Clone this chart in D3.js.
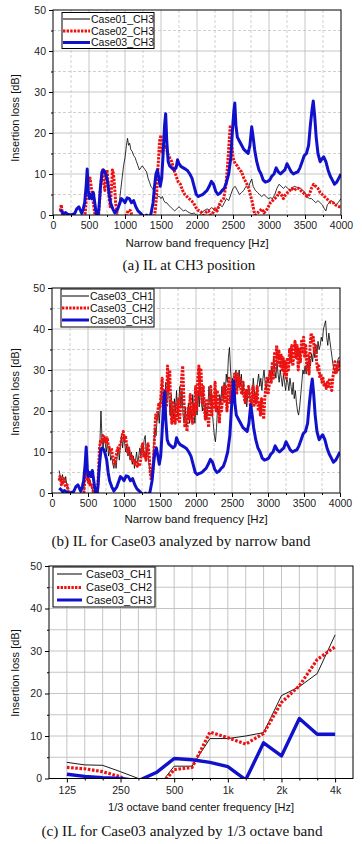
<!DOCTYPE html>
<html><head><meta charset="utf-8">
<script src="https://cdn.jsdelivr.net/npm/d3@7"></script>
<style>
html,body{margin:0;padding:0;background:#fff;}
svg{display:block;}
</style></head>
<body><svg id="chart" width="362" height="844"></svg>
<script>
// ---------------- DATA ----------------
const freqTicks = [0,500,1000,1500,2000,2500,3000,3500,4000];
const yTicks = [0,10,20,30,40,50];
const namesA = ["Case01_CH3","Case02_CH3","Case03_CH3"];
const namesB = ["Case03_CH1","Case03_CH2","Case03_CH3"];
const namesC = ["Case03_CH1","Case03_CH2","Case03_CH3"];
const bandCategories = ["125","160","200","250","315","400","500","630","800","1k","1.25k","1.6k","2k","2.5k","3.15k","4k"];
const bandTickLabels = ["125","250","500","1k","2k","4k"];

// [frequency Hz, insertion loss dB]
const case03CH3 = [[100,1.2],[125,0.8],[150,0.3],[175,0.6],[200,0.2],[250,0],[300,0.3],[330,1.5],[360,2],[380,1.2],[400,0.4],[420,1.5],[440,3],[460,7],[475,11.2],[490,6],[505,4],[520,5],[540,4],[560,5.5],[580,3],[600,0.5],[620,-1],[640,2],[660,7],[680,10.5],[700,11],[720,10.5],[740,9.5],[760,8],[780,5],[800,3],[830,1.5],[860,0.5],[900,1.5],[930,3],[950,4],[980,3.5],[1000,3],[1030,4.2],[1060,4],[1090,3],[1120,3.5],[1150,2],[1180,1],[1210,0.5],[1240,0],[1270,-0.5],[1300,0],[1330,-0.5],[1360,0.2],[1390,3],[1410,7],[1430,10],[1450,11],[1470,9],[1490,7],[1510,9],[1530,15],[1550,22],[1565,24.7],[1580,18],[1600,13],[1620,12],[1650,11.5],[1680,11],[1710,11.5],[1730,13.5],[1750,12.5],[1780,11.8],[1810,11.5],[1840,11.2],[1870,10.8],[1900,10],[1930,9],[1960,7],[1990,5],[2020,4.5],[2050,4.8],[2080,5],[2110,5.5],[2140,6],[2170,7],[2200,8.2],[2230,7.5],[2260,5.8],[2290,5],[2320,5.3],[2350,6],[2380,6.5],[2410,8],[2440,10],[2470,14],[2490,20],[2510,25],[2525,27.3],[2540,22],[2560,19],[2590,18],[2620,17],[2650,16],[2680,15.5],[2710,15],[2735,17],[2760,21.5],[2780,19],[2800,16],[2830,13],[2860,11],[2890,10],[2920,8.5],[2950,8],[2980,8.2],[3010,8.5],[3040,9.5],[3070,10],[3100,11.5],[3130,10.5],[3160,10],[3190,10.5],[3220,11],[3250,12.5],[3280,11.5],[3310,10.5],[3340,10],[3370,10.3],[3400,10.5],[3430,11.5],[3460,13],[3490,14.5],[3520,15],[3550,17],[3575,22],[3600,26],[3615,27.8],[3635,24],[3655,19],[3680,15],[3710,13],[3740,13.8],[3760,14.2],[3790,13],[3820,11],[3850,9.5],[3880,8.5],[3910,7.5],[3940,8],[3970,9],[4000,10]];

const case02CH3 = [[100,1],[115,2.5],[125,1],[140,-1],[440,-1],[455,2],[470,6],[485,9],[500,8.5],[515,9],[530,7],[545,5],[560,3],[575,1],[590,-1],[630,-1],[645,3],[660,7],[675,9],[690,11],[705,8],[720,6],[735,9],[750,11],[765,8],[780,4],[795,2],[810,6],[825,11],[840,10],[855,7],[870,3],[885,1],[900,-1],[1000,-1],[1030,0.5],[1050,1.2],[1080,1],[1100,-0.5],[1400,-1],[1420,1],[1440,5],[1460,12],[1480,18],[1500,19.5],[1515,15],[1530,17],[1550,16.5],[1570,17],[1590,15],[1620,14],[1650,13],[1680,11],[1710,9.5],[1740,8],[1770,7.5],[1800,6],[1830,5],[1860,4.5],[1890,4],[1920,3.5],[1950,3],[1980,2],[2010,1.2],[2040,1],[2070,0.5],[2100,-0.5],[2130,0.8],[2160,1],[2190,0],[2220,0.5],[2250,1.5],[2280,1],[2310,2.5],[2340,3.5],[2370,4],[2400,7],[2420,11],[2440,16],[2460,21.5],[2480,18],[2500,14],[2530,12.5],[2560,12],[2590,11],[2620,10.5],[2650,9],[2680,8],[2710,7],[2740,5],[2770,3],[2790,1],[2810,0],[2840,0.5],[2870,1],[2900,1.5],[2930,0.5],[2960,1],[2990,2],[3020,3],[3050,3.5],[3080,4],[3110,4.5],[3140,5.5],[3170,5],[3200,4],[3230,5],[3260,5.5],[3290,6],[3320,6.5],[3350,6],[3380,6.5],[3410,6.5],[3440,6],[3470,5.5],[3500,5],[3530,4.5],[3560,5],[3590,6.5],[3620,7.5],[3650,7],[3680,6.5],[3710,5.5],[3740,5],[3770,4.5],[3800,4],[3830,3.5],[3860,3],[3890,3],[3920,2.5],[3950,2.2],[3980,2],[4000,2]];

const case01CH3 = [[880,-0.5],[900,1],[920,3],[940,6],[960,9],[980,12],[1000,14],[1020,17],[1035,18.7],[1050,17],[1065,17.5],[1080,16],[1100,15.5],[1120,14.5],[1140,14],[1160,13],[1180,12],[1200,11],[1220,11.5],[1240,12],[1260,11.5],[1280,11],[1300,10.5],[1320,9],[1340,8],[1360,7],[1380,6.5],[1400,6],[1420,5.5],[1440,5],[1460,4.5],[1480,4.5],[1500,4],[1520,4.5],[1540,3.5],[1560,3],[1580,3],[1600,2.5],[1630,2],[1660,1.5],[1690,1],[1720,1.5],[1750,2],[1780,1.5],[1810,1],[1840,1.2],[1870,0.8],[1900,0.5],[1930,0.3],[1960,0.5],[1990,0],[2020,-0.3],[2050,0.2],[2080,0.8],[2110,1.2],[2140,1.5],[2170,1.2],[2200,1.8],[2230,1.5],[2260,1],[2290,2],[2320,2.5],[2350,2],[2380,3],[2410,4],[2440,3.5],[2470,5],[2500,6.5],[2530,7],[2560,6],[2590,5],[2620,5.5],[2650,6],[2680,7],[2710,6.5],[2740,8],[2760,8.8],[2780,7],[2810,6],[2840,5.5],[2870,5],[2900,4.5],[2930,5],[2960,4.5],[2990,4],[3020,4.2],[3050,4],[3080,5],[3110,6.5],[3140,7.5],[3170,7],[3200,6.5],[3230,7],[3260,6.5],[3290,6],[3320,6.5],[3350,7],[3380,6.8],[3410,6.5],[3440,6.5],[3470,6],[3500,5.5],[3530,4.5],[3560,4],[3590,4],[3620,3.5],[3650,3],[3680,3.5],[3710,3],[3740,2.5],[3770,1.5],[3790,1],[3810,2.5],[3840,3],[3870,3.5],[3900,3],[3930,2.5],[3960,3],[4000,4]];

const case03CH2 = [[100,3],[110,4],[120,3.5],[130,2],[140,3],[150,2.5],[165,3.5],[180,2],[195,1.5],[210,2],[225,0.5],[240,-1],[440,-1],[455,3],[470,7.5],[480,5],[490,3],[500,3.5],[510,2.5],[520,3],[535,1.5],[550,2],[570,0.5],[590,-1],[630,-1],[645,5],[660,11],[675,13],[690,12],[705,14],[720,12.5],[735,13.5],[750,12],[765,13.5],[780,12],[795,11],[810,10],[825,11],[840,9],[855,8],[870,7],[885,8.5],[900,10],[915,11],[930,10],[945,12],[960,12.5],[975,14],[990,15],[1005,13],[1020,14],[1035,12],[1050,10],[1065,11],[1080,9.5],[1095,8.5],[1110,9],[1125,7.5],[1140,8],[1155,7],[1170,8],[1185,6.5],[1200,7],[1215,6.5],[1230,8],[1245,11],[1260,12],[1275,9],[1290,10],[1305,8],[1320,11],[1335,12],[1350,9],[1365,5],[1380,3],[1395,4],[1410,8],[1425,14],[1440,19],[1455,18],[1470,20],[1485,22],[1500,21],[1515,24],[1530,28],[1545,22],[1560,19],[1575,25],[1590,21],[1605,31],[1620,25],[1635,30],[1650,20],[1665,17],[1680,22],[1695,19],[1710,17],[1725,22],[1740,18],[1755,23],[1770,17],[1785,21],[1800,28],[1815,31],[1830,24],[1845,16],[1860,19],[1875,15],[1890,21],[1905,18],[1920,24],[1935,20],[1950,17],[1965,22],[1980,19],[1995,26],[2010,20],[2025,28],[2040,31],[2055,24],[2070,30],[2085,22],[2100,26],[2115,21],[2130,18],[2145,23],[2160,20],[2175,16],[2190,22],[2205,26],[2220,19],[2235,24],[2250,21],[2265,27],[2280,20],[2295,25],[2310,22],[2325,17],[2340,23],[2355,20],[2370,24],[2385,26],[2400,22],[2415,26],[2430,20],[2445,24],[2460,28],[2475,22],[2490,25],[2505,27],[2520,23],[2535,29],[2550,26],[2565,24],[2580,29],[2595,26],[2610,28],[2625,25],[2640,24],[2655,27],[2670,23],[2685,22],[2700,25],[2715,23],[2730,26],[2745,24],[2760,20],[2775,23],[2790,26],[2805,21],[2820,24],[2835,22],[2850,26],[2865,20],[2880,22],[2895,19],[2910,23],[2925,21],[2940,18],[2955,23],[2970,26],[2985,28],[3000,24],[3015,26],[3030,30],[3045,27],[3060,32],[3075,28],[3090,34],[3105,30],[3120,36],[3135,32],[3150,35],[3165,31],[3180,34],[3195,30],[3210,33],[3225,29],[3240,32],[3255,28],[3270,33],[3285,30],[3300,35],[3315,32],[3330,36],[3345,31],[3360,34],[3375,37],[3390,33],[3405,36],[3420,30],[3435,35],[3450,32],[3465,37],[3480,34],[3495,38],[3510,33],[3525,36],[3540,30],[3555,34],[3570,29],[3585,36],[3600,39],[3615,37],[3630,38],[3645,34],[3660,36],[3675,32],[3690,30],[3705,31],[3720,28],[3735,29],[3750,27],[3765,28],[3780,26],[3795,27],[3810,25.5],[3825,27],[3840,26],[3855,28],[3870,26],[3885,25],[3900,28],[3915,30],[3930,32],[3945,29],[3960,31],[3975,30],[3990,32],[4000,31]];

const case03CH1 = [[100,5.5],[115,4],[130,3],[145,4.5],[160,3],[175,2.5],[190,4],[205,2],[220,1],[235,-1],[440,-1],[455,4],[470,8],[485,4],[500,2.5],[520,3.5],[540,2],[560,1],[580,-1],[630,-1],[650,7],[665,12],[680,20],[695,13],[710,11],[725,14],[740,12],[755,10],[770,13],[785,9],[800,11],[815,8],[830,9],[845,7],[860,6],[875,8],[890,6],[905,9],[920,11],[935,8],[950,12],[965,14],[980,11],[995,14],[1010,12],[1025,10],[1040,12],[1055,9],[1070,11],[1085,8],[1100,10],[1115,7],[1130,9],[1145,6],[1160,8],[1175,10],[1190,7],[1205,9],[1220,11],[1235,9],[1250,12],[1265,10],[1280,13],[1295,14],[1310,9],[1325,12],[1340,8],[1355,6],[1370,4],[1385,5],[1400,8],[1415,12],[1430,16],[1445,14],[1460,18],[1475,20],[1490,17],[1505,22],[1520,25],[1535,21],[1550,24],[1565,20],[1580,27],[1595,22],[1610,28],[1625,23],[1640,19],[1655,24],[1670,21],[1685,18],[1700,23],[1715,20],[1730,25],[1745,19],[1760,22],[1775,26],[1790,21],[1805,25],[1820,19],[1835,17],[1850,21],[1865,16],[1880,19],[1895,22],[1910,17],[1925,21],[1940,18],[1955,24],[1970,20],[1985,17],[2000,22],[2015,19],[2030,25],[2045,21],[2060,27],[2075,22],[2090,20],[2105,24],[2120,19],[2135,22],[2150,18],[2165,21],[2180,26],[2195,22],[2210,25],[2225,20],[2240,17],[2255,14],[2270,12.5],[2285,16],[2300,21],[2315,19],[2330,24],[2345,22],[2360,26],[2375,23],[2390,27],[2405,24],[2420,29],[2435,27],[2450,33],[2465,35.5],[2480,30],[2495,26],[2510,28],[2525,24],[2540,27],[2555,30],[2570,25],[2585,28],[2600,30],[2615,26],[2630,29],[2645,24],[2660,27],[2675,22],[2690,25],[2705,21],[2720,24],[2735,26],[2750,23],[2765,20],[2780,24],[2795,28],[2810,25],[2825,22],[2840,25],[2855,27],[2870,29],[2885,26],[2900,28],[2915,25],[2930,28],[2945,30],[2960,27],[2975,25],[2990,28],[3005,27],[3020,30],[3035,28],[3050,31],[3065,29],[3080,33],[3095,30],[3110,28],[3125,32],[3140,29],[3155,27],[3170,30],[3185,28],[3200,26],[3215,29],[3230,27],[3245,25],[3260,28],[3275,27],[3290,25],[3305,28],[3320,26],[3335,24],[3350,27],[3365,23],[3380,25],[3395,22],[3410,20],[3425,19],[3440,21],[3455,24],[3470,27],[3485,30],[3500,29],[3515,31],[3530,29],[3545,32],[3560,30],[3575,33],[3590,31],[3605,34],[3620,32],[3635,35],[3650,33],[3665,36],[3680,34],[3695,37],[3710,35],[3725,36],[3740,38],[3755,37],[3770,40],[3785,41],[3800,42],[3815,38],[3830,36],[3845,39],[3860,37],[3875,35],[3890,33],[3905,31],[3920,30],[3935,29],[3950,30],[3965,32],[3980,33],[4000,33]];

// 1/3 octave band values (dB), one per band in bandCategories
const octCH1 = [3.8,3.2,3.1,1.6,0,-2.5,2.9,2.9,9.4,9.4,10,10.8,19.5,21.6,24.7,33.8];
const octCH2 = [2.6,2.3,1.6,0.4,-2,-3,2.1,2.6,10.9,9.6,8.1,10.6,17.9,21.8,28,31];
const octCH3 = [1.0,0.5,0.2,0,-0.5,1.4,4.7,4.4,3.8,2.8,-0.3,8.4,5.3,14.1,10.4,10.4];

// ---------------- DRAW ----------------
const svg = d3.select("#chart");
svg.append("rect").attr("width",362).attr("height",844).attr("fill","#fff");
const SANS = "'Liberation Sans', Arial, sans-serif";
const SERIF = "'Liberation Serif', 'Times New Roman', serif";
const styles = [
  {stroke:"#000", width:0.8, dash:null},
  {stroke:"#ee1111", width:3, dash:"2.4,1.2"},
  {stroke:"#1111cc", width:3, dash:null}
];
let clipId = 0;

function legend(g, names, box, row, lineX, textX, fs){
  g.append("rect").attr("x",box[0]).attr("y",box[1]).attr("width",box[2]-box[0]).attr("height",box[3]-box[1])
    .attr("fill","#fff").attr("stroke","#000").attr("stroke-width",1);
  names.forEach((n,i)=>{
    const s = styles[i];
    g.append("line").attr("x1",lineX[0]).attr("x2",lineX[1]).attr("y1",row[i]).attr("y2",row[i])
      .attr("stroke",s.stroke).attr("stroke-width",s.width===0.8?1:s.width).attr("stroke-dasharray",s.dash);
    g.append("text").attr("x",textX).attr("y",row[i]).attr("dy","0.36em").attr("font-family",SANS)
      .attr("font-size",fs).attr("fill","#111").text(n);
  });
}

function narrowPanel(o){
  const x = d3.scaleLinear().domain([0,4000]).range([o.x0,o.x1]);
  const y = d3.scaleLinear().domain([0,50]).range([o.yb,o.yt]);
  const g = svg.append("g");
  const minorX = d3.range(250,4000,500);
  const minorY = d3.range(5,50,10);
  g.selectAll(null).data(minorX).join("line").attr("x1",d=>x(d)).attr("x2",d=>x(d)).attr("y1",o.yt).attr("y2",o.yb)
    .attr("stroke","#c4c4c4").attr("stroke-width",0.8).attr("stroke-dasharray","3,2");
  g.selectAll(null).data(minorY).join("line").attr("y1",d=>y(d)).attr("y2",d=>y(d)).attr("x1",o.x0).attr("x2",o.x1)
    .attr("stroke","#c4c4c4").attr("stroke-width",0.8).attr("stroke-dasharray","3,2");
  g.selectAll(null).data(freqTicks.slice(1,-1)).join("line").attr("x1",d=>x(d)).attr("x2",d=>x(d)).attr("y1",o.yt).attr("y2",o.yb)
    .attr("stroke","#b8b8b8").attr("stroke-width",0.8);
  g.selectAll(null).data(yTicks.slice(1,-1)).join("line").attr("y1",d=>y(d)).attr("y2",d=>y(d)).attr("x1",o.x0).attr("x2",o.x1)
    .attr("stroke","#b8b8b8").attr("stroke-width",0.8);
  const cid = "clip"+(clipId++);
  svg.append("clipPath").attr("id",cid).append("rect").attr("x",o.x0).attr("y",o.yt).attr("width",o.x1-o.x0).attr("height",o.yb-o.yt);
  const line = d3.line().x(d=>x(d[0])).y(d=>y(d[1]));
  const lg = g.append("g").attr("clip-path",`url(#${cid})`);
  o.series.forEach((s,i)=>{
    const st = styles[i];
    lg.append("path").datum(s).attr("d",line).attr("fill","none").attr("stroke",st.stroke)
      .attr("stroke-width",st.width).attr("stroke-dasharray",st.dash).attr("stroke-linejoin","round");
  });
  const ax = g.append("g").attr("transform",`translate(0,${o.yb})`)
    .call(d3.axisBottom(x).tickValues(freqTicks).tickSize(4).tickPadding(3).tickFormat(d3.format("d")));
  ax.select(".domain").remove();
  const axm = g.append("g").attr("transform",`translate(0,${o.yb})`).call(d3.axisBottom(x).tickValues(minorX).tickSize(2).tickFormat(""));
  axm.select(".domain").remove();
  const ay = g.append("g").attr("transform",`translate(${o.x0},0)`)
    .call(d3.axisLeft(y).tickValues(yTicks).tickSize(4).tickPadding(3));
  ay.select(".domain").remove();
  const aym = g.append("g").attr("transform",`translate(${o.x0},0)`).call(d3.axisLeft(y).tickValues(minorY).tickSize(2).tickFormat(""));
  aym.select(".domain").remove();
  g.selectAll(".tick text").attr("font-family",SANS).attr("font-size",10.5).attr("fill","#222");
  g.append("rect").attr("x",o.x0).attr("y",o.yt).attr("width",o.x1-o.x0).attr("height",o.yb-o.yt)
    .attr("fill","none").attr("stroke","#000").attr("stroke-width",1);
  legend(g, o.names, o.legBox, o.legRows, o.legLine, o.legText, 10.5);
  g.append("text").attr("transform",`translate(${o.yTitleX},${o.yTitleY}) rotate(-90)`).attr("text-anchor","middle")
    .attr("font-family",SANS).attr("font-size",11).attr("fill","#111").text("Insertion loss [dB]");
  g.append("text").attr("x",o.xTitleX).attr("y",o.xTitleY).attr("text-anchor","middle")
    .attr("font-family",SANS).attr("font-size",11.5).attr("fill","#111").text("Narrow band frequency [Hz]");
  g.append("text").attr("x",o.capX).attr("y",o.capY).attr("text-anchor","middle")
    .attr("font-family",SERIF).attr("font-size",15).attr("fill","#111").text(o.caption);
}

narrowPanel({x0:53,x1:341,yt:10,yb:215,series:[case01CH3,case02CH3,case03CH3],names:namesA,
  legBox:[62,12.5,154,48.5],legRows:[19,31,42.5],legLine:[63,90],legText:91,
  yTitleX:19,yTitleY:118,xTitleX:197,xTitleY:247,capX:189,capY:270,caption:"(a) IL at CH3 position"});
narrowPanel({x0:52,x1:340,yt:288,yb:493,series:[case03CH1,case03CH2,case03CH3],names:namesB,
  legBox:[61,289,154,327],legRows:[296,308,320],legLine:[62,89],legText:90,
  yTitleX:19,yTitleY:392,xTitleX:196,xTitleY:523,capX:181,capY:546,caption:"(b) IL for Case03 analyzed by narrow band"});

// panel c: 1/3 octave
(function(){
  const o = {x0:49,x1:353,yt:566,yb:778.5};
  const x = d3.scalePoint().domain(bandCategories).range([o.x0,o.x1]).padding(1);
  const y = d3.scaleLinear().domain([0,50]).range([o.yb,o.yt]);
  const g = svg.append("g");
  g.selectAll(null).data(bandCategories).join("line").attr("x1",d=>x(d)).attr("x2",d=>x(d)).attr("y1",o.yt).attr("y2",o.yb)
    .attr("stroke","#bdbdbd").attr("stroke-width",0.9);
  g.selectAll(null).data(d3.range(5,50,5)).join("line").attr("y1",d=>y(d)).attr("y2",d=>y(d)).attr("x1",o.x0).attr("x2",o.x1)
    .attr("stroke","#bdbdbd").attr("stroke-width",0.9);
  const cid = "clip"+(clipId++);
  svg.append("clipPath").attr("id",cid).append("rect").attr("x",o.x0).attr("y",o.yt).attr("width",o.x1-o.x0).attr("height",o.yb-o.yt);
  const lg = g.append("g").attr("clip-path",`url(#${cid})`);
  const line = d3.line().x((d,i)=>x(bandCategories[i])).y(d=>y(d));
  [octCH1,octCH2,octCH3].forEach((s,i)=>{
    const st = styles[i];
    lg.append("path").datum(s).attr("d",line).attr("fill","none").attr("stroke",st.stroke)
      .attr("stroke-width",i===0?0.9:(i===1?3.2:3.4)).attr("stroke-dasharray",i===1?"2.6,1.6":null).attr("stroke-linejoin","round");
  });
  const ax = g.append("g").attr("transform",`translate(0,${o.yb})`)
    .call(d3.axisBottom(x).tickValues(bandTickLabels).tickSize(4).tickPadding(4));
  ax.select(".domain").remove();
  const axm = g.append("g").attr("transform",`translate(0,${o.yb})`)
    .call(d3.axisBottom(x).tickValues(bandCategories.filter(d=>!bandTickLabels.includes(d))).tickSize(2).tickFormat(""));
  axm.select(".domain").remove();
  const ay = g.append("g").attr("transform",`translate(${o.x0},0)`).call(d3.axisLeft(y).tickValues(yTicks).tickSize(4).tickPadding(3));
  ay.select(".domain").remove();
  const aym = g.append("g").attr("transform",`translate(${o.x0},0)`).call(d3.axisLeft(y).tickValues(d3.range(5,50,10)).tickSize(2).tickFormat(""));
  aym.select(".domain").remove();
  g.selectAll(".tick text").attr("font-family",SANS).attr("font-size",10.5).attr("fill","#222");
  g.append("rect").attr("x",o.x0).attr("y",o.yt).attr("width",o.x1-o.x0).attr("height",o.yb-o.yt)
    .attr("fill","none").attr("stroke","#000").attr("stroke-width",1);
  legend(g, namesC, [53,567,155,607], [574,587.5,600], [57,82], 86, 11);
  g.append("text").attr("transform",`translate(19,673) rotate(-90)`).attr("text-anchor","middle")
    .attr("font-family",SANS).attr("font-size",11).attr("fill","#111").text("Insertion loss [dB]");
  g.append("text").attr("x",201).attr("y",811).attr("text-anchor","middle")
    .attr("font-family",SANS).attr("font-size",11).attr("fill","#111").text("1/3 octave band center frequency [Hz]");
  g.append("text").attr("x",182).attr("y",836).attr("text-anchor","middle")
    .attr("font-family",SERIF).attr("font-size",15.2).attr("fill","#111").text("(c) IL for Case03 analyzed by 1/3 octave band");
})();
</script></body></html>
